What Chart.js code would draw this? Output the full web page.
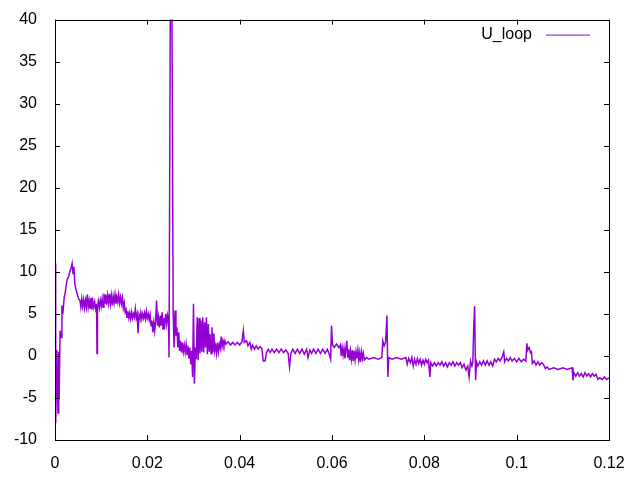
<!DOCTYPE html>
<html>
<head>
<meta charset="utf-8">
<script src="https://cdn.jsdelivr.net/npm/chart.js@4"></script>
<style>
  html, body { margin: 0; padding: 0; background: #fff; }
  #wrap { width: 640px; height: 480px; }
</style>
</head>
<body>
<div id="wrap"><canvas id="uLoopChart"></canvas></div>
<script>
// time axis (s)
var tValues = [
  0, 0.0001, 0.0002, 0.0004, 0.00065, 0.0008, 0.0009, 0.0011, 0.0013, 0.0015,
  0.0017, 0.0020, 0.0022, 0.0026, 0.0030, 0.0033, 0.0035, 0.0037, 0.0039, 0.0041,
  0.0043, 0.0046, 0.0048, 0.0051, 0.0054, 0.0056, 0.0058, 0.0060, 0.0062, 0.0064,
  0.0066, 0.0068, 0.0070, 0.0072, 0.0074, 0.0076, 0.0078, 0.0080, 0.0082, 0.0084,
  0.0086, 0.0088, 0.0090, 0.0091, 0.0092, 0.0094, 0.0096, 0.0098, 0.0100, 0.0102,
  0.0104, 0.0106, 0.0108, 0.0110, 0.0112, 0.0114, 0.0116, 0.0118, 0.0120, 0.0122,
  0.0124, 0.0126, 0.0128, 0.0130, 0.0132, 0.0134, 0.0136, 0.0138, 0.0140, 0.0142,
  0.0144, 0.0146, 0.0148, 0.0150, 0.0152, 0.0154, 0.0156, 0.0158, 0.0160, 0.0162,
  0.0164, 0.0166, 0.0168, 0.0170, 0.0172, 0.0174, 0.0176, 0.0178, 0.0180, 0.0182,
  0.0184, 0.0186, 0.0188, 0.0190, 0.0192, 0.0194, 0.0196, 0.0198, 0.0200, 0.0202,
  0.0204, 0.0206, 0.0208, 0.0210, 0.0212, 0.0214, 0.0216, 0.0218, 0.0220, 0.0222,
  0.0224, 0.0226, 0.0228, 0.0230, 0.0232, 0.0234, 0.0236, 0.0238, 0.0240, 0.0242,
  0.0244, 0.0246, 0.0247, 0.0250, 0.0253, 0.0256, 0.0258, 0.0260, 0.0262, 0.0264,
  0.0266, 0.0268, 0.0270, 0.0272, 0.0274, 0.0276, 0.0278, 0.0280, 0.0282, 0.0284,
  0.0286, 0.0288, 0.0290, 0.0292, 0.0294, 0.0296, 0.0298, 0.0300, 0.0302, 0.0304,
  0.0306, 0.0308, 0.0310, 0.0312, 0.0314, 0.0316, 0.0318, 0.0320, 0.0322, 0.0324,
  0.0326, 0.0328, 0.0330, 0.0332, 0.0334, 0.0336, 0.0338, 0.0340, 0.0342, 0.0344,
  0.0346, 0.0348, 0.0350, 0.0352, 0.0354, 0.0356, 0.0358, 0.0360, 0.0362, 0.0364,
  0.0366, 0.0368, 0.0370, 0.0375, 0.0380, 0.0385, 0.0390, 0.0395, 0.0400, 0.0405,
  0.0408, 0.0410, 0.0415, 0.0418, 0.0422, 0.0425, 0.0428, 0.0432, 0.0436, 0.0440,
  0.0444, 0.0448, 0.0451, 0.0455, 0.0458, 0.0462, 0.0466, 0.0470, 0.0475, 0.0480,
  0.0485, 0.0490, 0.0495, 0.0500, 0.0505, 0.0508, 0.0511, 0.0515, 0.0520, 0.0525,
  0.0530, 0.0535, 0.0540, 0.0545, 0.0548, 0.0552, 0.0556, 0.0560, 0.0565, 0.0570,
  0.0575, 0.0580, 0.0585, 0.0590, 0.0594, 0.0597, 0.0599, 0.0601, 0.0605, 0.0610,
  0.0615, 0.0618, 0.0620, 0.0622, 0.0624, 0.0626, 0.0628, 0.0630, 0.0632, 0.0634,
  0.0636, 0.0638, 0.0640, 0.0642, 0.0644, 0.0646, 0.0648, 0.0650, 0.0652, 0.0654,
  0.0656, 0.0658, 0.0660, 0.0662, 0.0664, 0.0666, 0.0668, 0.0670, 0.0675, 0.0680,
  0.0690, 0.0700, 0.0708, 0.0710, 0.0713, 0.0716, 0.0719, 0.0721, 0.0723, 0.0730,
  0.0740, 0.0750, 0.0760, 0.0763, 0.0766, 0.0770, 0.0773, 0.0776, 0.0779, 0.0782,
  0.0785, 0.0788, 0.0791, 0.0794, 0.0797, 0.0800, 0.0803, 0.0806, 0.0809, 0.0812,
  0.0814, 0.0818, 0.0822, 0.0826, 0.0830, 0.0834, 0.0838, 0.0842, 0.0846, 0.0850,
  0.0854, 0.0858, 0.0862, 0.0866, 0.0870, 0.0874, 0.0878, 0.0882, 0.0886, 0.0890,
  0.0894, 0.0897, 0.0900, 0.0903, 0.0905, 0.0907, 0.0909, 0.0911, 0.0913, 0.0916,
  0.0920, 0.0924, 0.0928, 0.0932, 0.0936, 0.0940, 0.0944, 0.0948, 0.0952, 0.0956,
  0.0960, 0.0964, 0.0968, 0.0972, 0.0974, 0.0978, 0.0982, 0.0986, 0.0990, 0.0995,
  0.1000, 0.1005, 0.1010, 0.1015, 0.1020, 0.1022, 0.1024, 0.1027, 0.1030, 0.1032,
  0.1034, 0.1038, 0.1042, 0.1046, 0.1050, 0.1054, 0.1058, 0.1062, 0.1066, 0.1070,
  0.1080, 0.1090, 0.1100, 0.1110, 0.1120, 0.1122, 0.1124, 0.1128, 0.1132, 0.1136,
  0.1140, 0.1144, 0.1148, 0.1152, 0.1156, 0.1160, 0.1164, 0.1168, 0.1172, 0.1176,
  0.1180, 0.1185, 0.1190, 0.1195, 0.1200
];
// U_loop (V), same order as tValues
var uLoopValues = [
  0, 11, -8, 0.7, -6.8, 0.5, -5, 3, 2.2, 6,
  5, 7, 7.5, 9, 9.5, 10.2, 10.5, 11, 9.8, 10.6,
  8.5, 7.8, 7.4, 6.8, 6.6, 5.8, 6.8, 5.9, 6.7, 5.7,
  6.6, 5.8, 7.3, 5.8, 6.6, 5.6, 6.9, 5.5, 6.5, 5.8,
  6.4, 5.6, 6.2, 0.3, 5.8, 6.5, 5.7, 6.6, 5.9, 6.8,
  5.8, 7.4, 6.2, 7.3, 6.1, 7.2, 6.3, 7.4, 6.2, 7.2,
  6.0, 7.1, 6.3, 7.3, 6.2, 7.0, 6.4, 7.3, 6.3, 7.0,
  6.2, 6.9, 5.7, 6.3, 5.2, 5.5, 4.6, 5.3, 4.5, 5.1,
  4.4, 5.2, 4.5, 5.0, 4.6, 5.6, 4.5, 5.0, 2.7, 4.9,
  4.5, 5.2, 4.4, 5.0, 4.5, 5.1, 4.4, 5.3, 4.5, 5.0,
  4.3, 4.9, 3.6, 4.2, 2.8, 4.0, 3.0, 4.2, 6.6, 3.6,
  4.6, 3.4, 4.8, 3.6, 5.2, 3.2, 4.5, 3.8, 5.0, 3.8,
  4.8, 4.0, -0.2, 45, 45, 5.0, 1.0, 5.4, 2.4, 3.4,
  1.0, 2.8, 0.6, 1.8, 0.4, 1.6, 0.5, 1.3, 0.4, 1.4,
  0.2, 1.2, -0.3, 1.0, -1.0, 0.6, -2.5, 6.2, -3.3, 1.0,
  -0.4, 4.6, -0.5, 4.5, 0.3, 4.2, 0.5, 4.6, 0.4, 4.0,
  1.0, 4.6, 0.2, 3.8, 0.5, 2.6, 0.3, 3.4, 0.4, 2.7,
  0.6, 1.2, 0.3, 1.6, 0.5, 1.4, 0.9, 2.3, 1.1, 1.8,
  1.3, 1.8, 1.4, 1.7, 1.3, 1.6, 1.3, 1.6, 1.3, 1.7,
  3.0, 1.6, 1.8, 1.2, 1.6, 0.8, 1.3, 0.8, 1.2, 0.8,
  1.1, 0.9, -0.6, -0.6, 0.4, 0.8, 0.4, 0.8, 0.4, 0.8,
  0.4, 0.8, 0.4, 0.7, 0.3, -1.3, 0.3, 0.8, 0.3, 0.8,
  0.3, 0.8, 0.2, 0.8, -0.2, 0.7, 0.3, 0.8, 0.3, 0.8,
  0.3, 0.8, 0.3, 0.8, 0.2, -0.4, 3.6, 1.3, 1.0, 1.4,
  1.0, 1.3, 0.0, 1.0, 0.1, 0.9, -0.3, 0.8, 1.8, -0.2,
  0.8, -0.5, 0.6, -0.4, 0.7, -0.6, 0.6, -0.5, 0.5, -0.3,
  0.7, -0.5, 0.4, -0.7, 0.5, -0.3, 0.3, -0.5, -0.2, -0.4,
  -0.2, -0.4, -0.2, 1.8, 1.2, 1.6, 4.8, -2.5, -0.2, -0.4,
  -0.2, -0.4, -0.2, -1.0, -0.3, -0.8, -0.2, -1.2, -0.4, -1.0,
  -0.3, -0.9, -0.4, -1.1, -0.5, -1.0, -0.4, -0.8, -0.5, -2.5,
  -0.8, -1.2, -0.8, -1.2, -0.8, -1.1, -0.7, -1.2, -0.8, -1.3,
  -0.8, -1.1, -0.7, -1.2, -0.8, -1.1, -0.8, -1.4, -1.0, -1.7,
  -1.2, -2.5, -0.6, -1.2, -0.8, 3.5, 5.9, -2.9, -0.7, -1.2,
  -0.7, -1.1, -0.6, -1.1, -0.6, -1.1, -0.7, -1.2, -0.4, -0.7,
  -0.3, -0.6, -0.2, 0.5, -0.7, -0.3, -0.6, -0.2, -0.6, -0.3,
  -0.7, -0.3, -0.7, -0.4, -0.6, 1.5, 0.7, 1.0, 0.4, 0.5,
  -0.9, -0.6, -1.1, -0.7, -1.1, -0.8, -1.0, -1.5, -1.3, -1.6,
  -1.4, -1.6, -1.4, -1.6, -1.4, -2.9, -2.0, -2.4, -2.0, -2.4,
  -2.1, -2.5, -2.0, -2.4, -2.1, -2.5, -2.1, -2.4, -2.2, -2.8,
  -2.6, -2.8, -2.5, -2.8, -2.6
];
var seriesLabel = 'U_loop';
var xMin = 0, xMax = 0.12, xStep = 0.02;
var yMin = -10, yMax = 40, yStep = 5;

var points = tValues.map(function (t, i) { return { x: t, y: uLoopValues[i] }; });
var fontFamily = 'Liberation Sans, Arial, sans-serif';

// gnuplot style: full border, inward ticks on all four sides, key top right
var gnuplotFrame = {
  id: 'gnuplotFrame',
  afterDraw: function (chart) {
    var c = chart.ctx, a = chart.chartArea;
    var xs = chart.scales.x, ys = chart.scales.y;
    var tick = 5;
    c.save();
    c.strokeStyle = '#000';
    c.lineWidth = 1;
    c.beginPath();
    xs.ticks.forEach(function (tk) {
      var px = Math.round(xs.getPixelForValue(tk.value)) + 0.5;
      c.moveTo(px, a.bottom); c.lineTo(px, a.bottom - tick);
      c.moveTo(px, a.top); c.lineTo(px, a.top + tick);
    });
    ys.ticks.forEach(function (tk) {
      var py = Math.round(ys.getPixelForValue(tk.value)) + 0.5;
      c.moveTo(a.left, py); c.lineTo(a.left + tick, py);
      c.moveTo(a.right, py); c.lineTo(a.right - tick, py);
    });
    c.stroke();
    c.strokeRect(Math.round(a.left) + 0.5, Math.round(a.top) + 0.5,
      Math.round(a.right - a.left), Math.round(a.bottom - a.top));

    // key
    var ds = chart.data.datasets[0];
    c.font = '16px ' + fontFamily;
    c.fillStyle = '#000';
    c.textAlign = 'right';
    c.textBaseline = 'middle';
    c.fillText(ds.label, a.right - 77, a.top + 15);
    c.strokeStyle = ds.borderColor;
    c.lineWidth = 1;
    c.beginPath();
    c.moveTo(a.right - 63, a.top + 15.5);
    c.lineTo(a.right - 19, a.top + 15.5);
    c.stroke();
    c.restore();
  }
};

var ctx = document.getElementById('uLoopChart').getContext('2d');
var uLoopChart = new Chart(ctx, {
  type: 'line',
  data: {
    datasets: [{
      label: seriesLabel,
      data: points,
      borderColor: '#9400d3',
      backgroundColor: '#9400d3',
      borderWidth: 1.5,
      pointRadius: 0,
      tension: 0
    }]
  },
  options: {
    responsive: true,
    maintainAspectRatio: false,
    animation: false,
    layout: { padding: { top: 18, right: 31, left: 0, bottom: 0 } },
    plugins: {
      tooltip: { enabled: false },
      legend: { display: false }
    },
    scales: {
      x: {
        type: 'linear',
        min: xMin, max: xMax,
        grid: { display: false },
        border: { display: false },
        afterFit: function (s) { s.height = 40; },
        ticks: {
          stepSize: xStep,
          color: '#000',
          padding: 6,
          maxRotation: 0,
          font: { family: fontFamily, size: 16 },
          callback: function (v) { return String(+v.toFixed(4)); }
        }
      },
      y: {
        type: 'linear',
        min: yMin, max: yMax,
        grid: { display: false },
        border: { display: false },
        afterFit: function (s) { s.width = 55; },
        ticks: {
          stepSize: yStep,
          color: '#000',
          padding: 10,
          font: { family: fontFamily, size: 16 }
        }
      }
    }
  },
  plugins: [gnuplotFrame]
});
</script>
</body>
</html>
